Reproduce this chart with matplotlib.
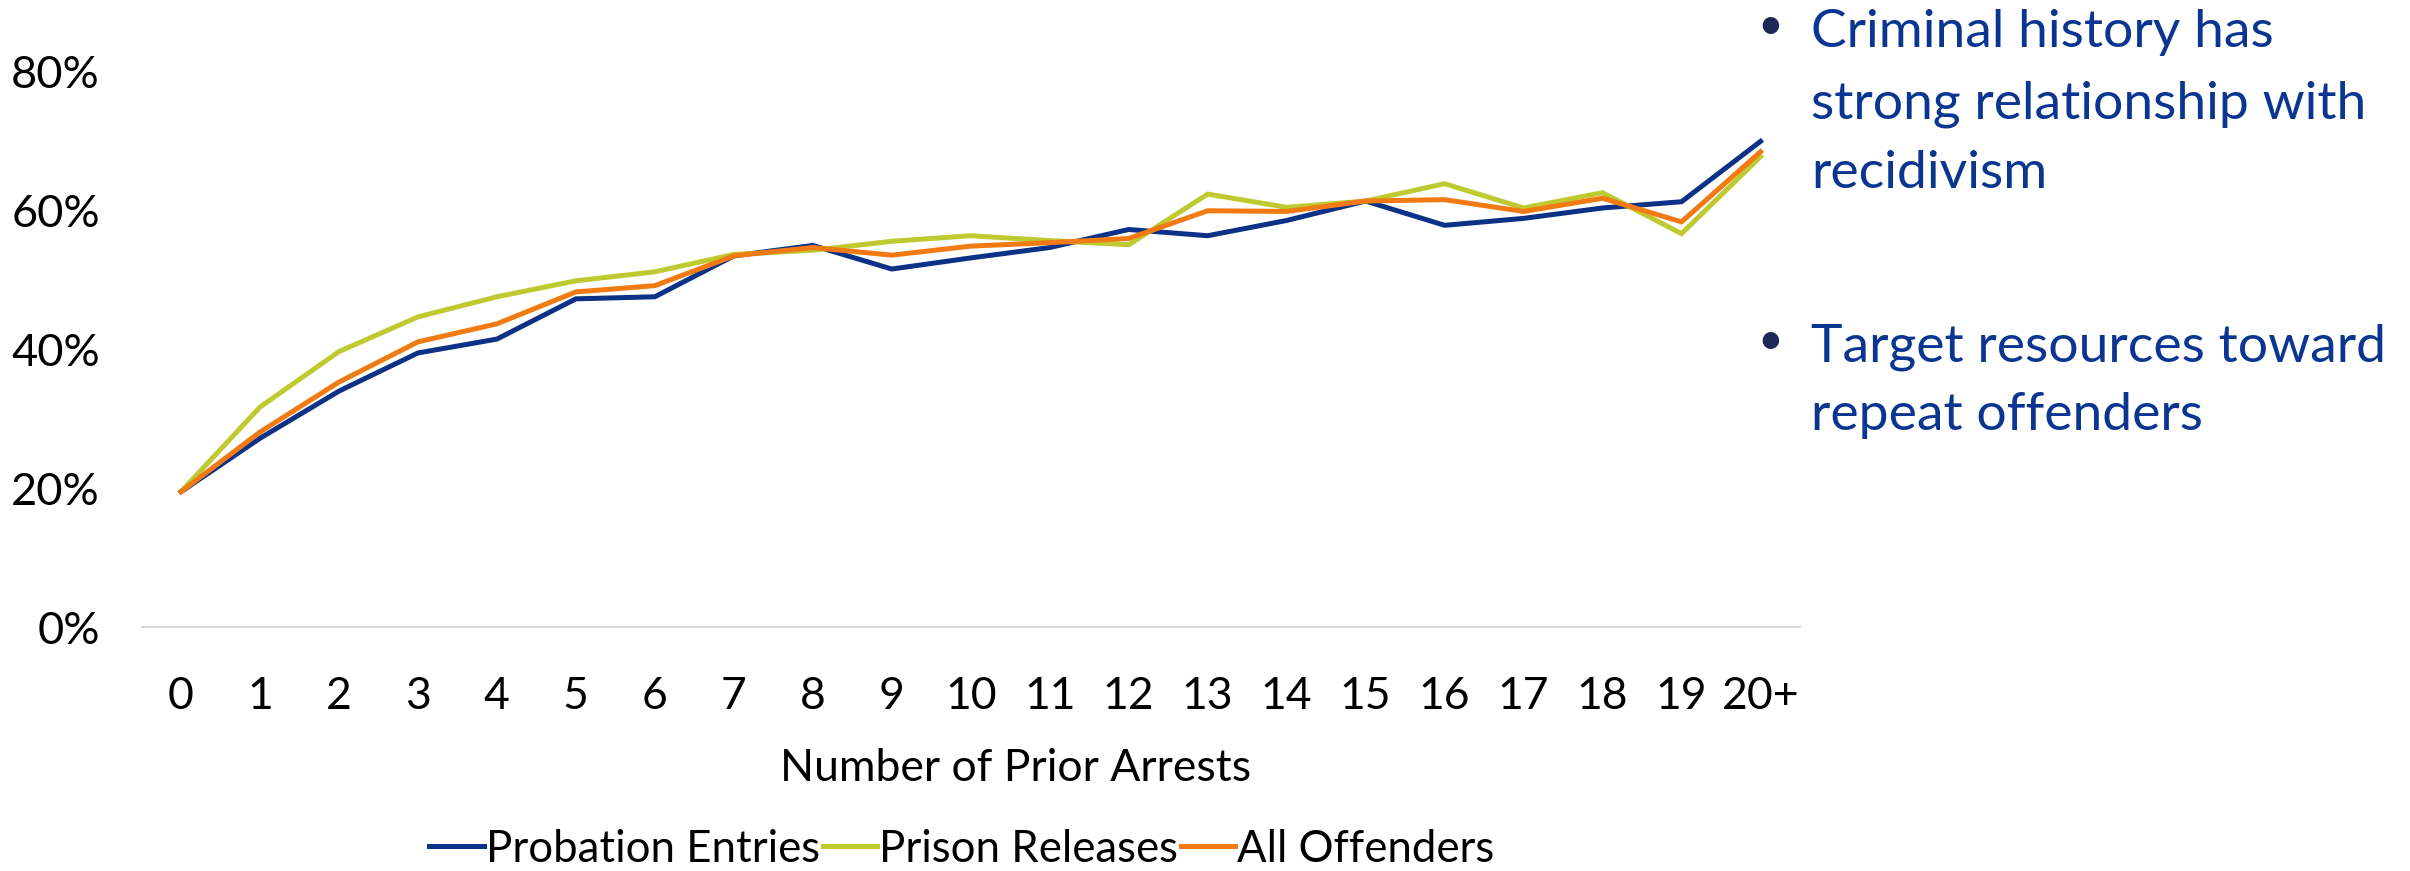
import matplotlib.pyplot as plt
from matplotlib.ticker import FuncFormatter

# Recidivism rate (%) by number of prior arrests
arrests = ['0', '1', '2', '3', '4', '5', '6', '7', '8', '9', '10',
           '11', '12', '13', '14', '15', '16', '17', '18', '19', '20+']
probation_entries = [19.5, 27.2, 34.0, 39.5, 41.5, 47.3, 47.6, 53.5, 55.0, 51.6, 53.2,
                     54.7, 57.3, 56.4, 58.6, 61.4, 57.9, 58.9, 60.4, 61.3, 70.0]
prison_releases = [19.5, 31.7, 39.7, 44.7, 47.6, 49.9, 51.2, 53.7, 54.3, 55.6, 56.4,
                   55.7, 55.1, 62.4, 60.5, 61.4, 63.9, 60.4, 62.6, 56.7, 67.8]
all_offenders = [19.5, 28.1, 35.3, 41.1, 43.7, 48.3, 49.2, 53.5, 54.7, 53.6, 54.9,
                 55.4, 56.0, 60.0, 59.9, 61.4, 61.6, 59.9, 61.8, 58.4, 68.5]

bullets = [
    ["Criminal history has", "strong relationship with", "recidivism"],
    ["Target resources toward", "repeat offenders"],
]

plt.rcParams['font.family'] = ['Lato', 'DejaVu Sans']

W, H = 2410, 871
fig = plt.figure(figsize=(W / 100, H / 100), dpi=100)
ax = fig.add_axes([141.5 / W, 1 - 627 / H, (1800 - 141.5) / W, (627 - 72) / H])

x = list(range(len(arrests)))
ax.plot(x, probation_entries, color='#0b3287', lw=3.6, label='Probation Entries', solid_joinstyle='miter')
ax.plot(x, prison_releases, color='#bfca30', lw=3.6, label='Prison Releases', solid_joinstyle='miter')
ax.plot(x, all_offenders, color='#f27a12', lw=3.6, label='All Offenders', solid_joinstyle='miter')

ax.set_xlim(-0.5, len(arrests) - 0.5)
ax.set_ylim(0, 80)
ax.set_yticks([0, 20, 40, 60, 80])
ax.yaxis.set_major_formatter(FuncFormatter(lambda v, p: f"{v:.0f}%"))
ax.set_xticks(x)
ax.set_xticklabels(arrests)
ax.tick_params(axis='y', length=0, pad=30, labelsize=32.5)
ax.tick_params(axis='x', length=0, pad=35, labelsize=32)

for s in ['top', 'right', 'left']:
    ax.spines[s].set_visible(False)
ax.spines['bottom'].set_color('#d9d9d9')
ax.spines['bottom'].set_linewidth(1.5)

ax.set_xlabel('Number of Prior Arrests', fontsize=32)
ax.xaxis.set_label_coords(0.527, -0.218)

fig.legend(loc='center', bbox_to_anchor=(962 / W, 1 - 849 / H), ncol=3, frameon=False,
           fontsize=31.5, handlelength=1.25, handletextpad=0.05, columnspacing=0.05)

# bullet notes on the right
baselines = [[47.5, 118.5, 187.5], [361, 430]]
dots = [27, 341]
for lines, ys, yd in zip(bullets, baselines, dots):
    fig.text(1770 / W, 1 - yd / H, '\u2022', color='#1d2856', fontsize=32,
             ha='center', va='center')
    for line, yb in zip(lines, ys):
        fig.text(1811 / W, 1 - yb / H, line, color='#0a3590', fontsize=38.5,
                 ha='left', va='baseline')

fig.savefig('out.png', dpi=100)
